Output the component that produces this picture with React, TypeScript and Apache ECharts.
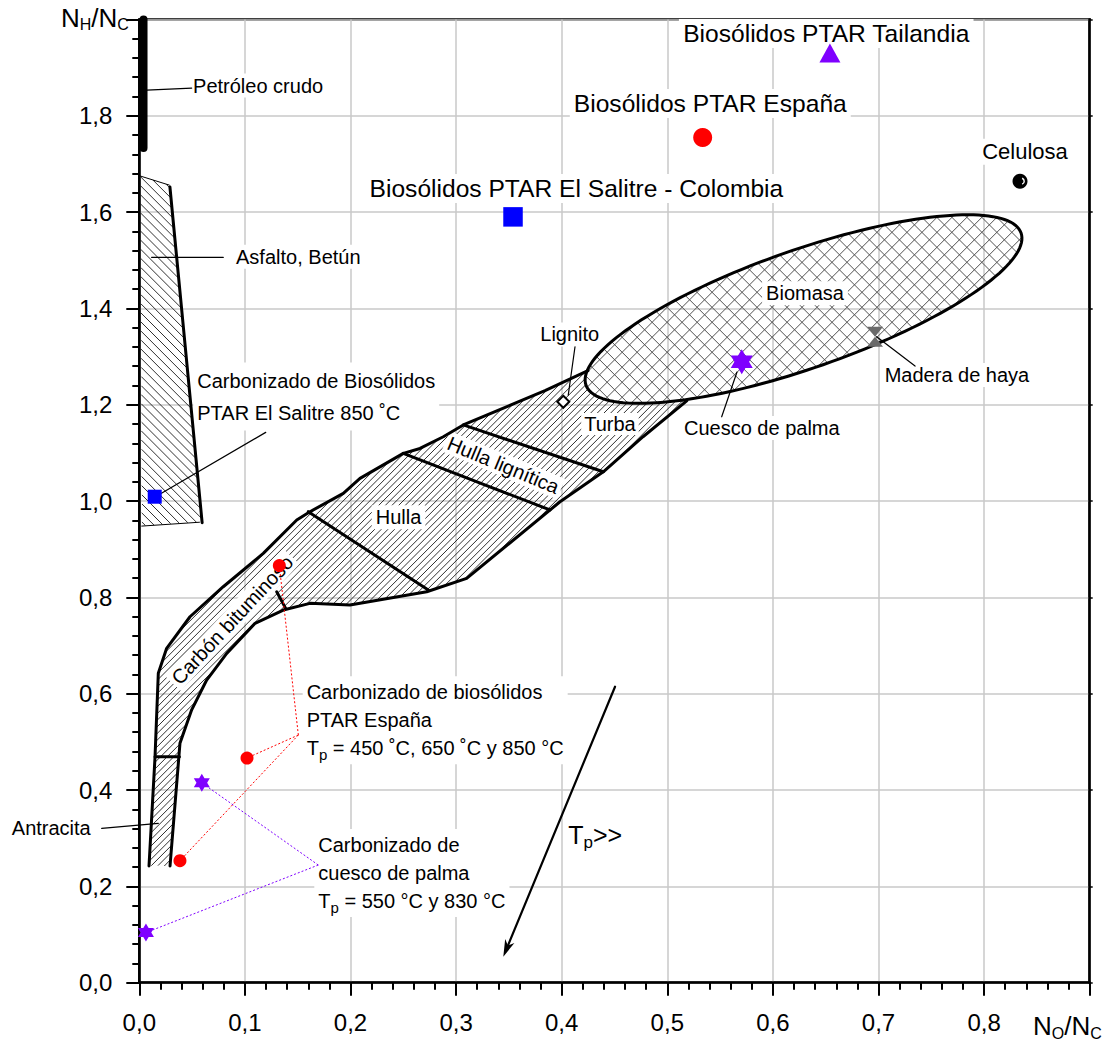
import React, { useEffect, useRef } from 'react';
import * as echarts from 'echarts';

const FONT = '"Liberation Sans", Arial, Helvetica, sans-serif';

// ---------------- axes ----------------
const X_MIN = 0;
const X_MAX = 0.9;
const X_STEP = 0.1;
const Y_MIN = 0;
const Y_MAX = 2.0;
const Y_STEP = 0.2;

// ---------------- point data (N_O/N_C, N_H/N_C) ----------------
const TAILANDIA = [[0.654, 1.93]];
const ESPANA = [[0.5335, 1.755]];
const COLOMBIA = [[0.3539, 1.59]];
const CELULOSA = [[0.834, 1.664]];
const MADERA_HAYA = [[0.6967, 1.341]];
const CUESCO_PALMA = [[0.5705, 1.289]];
const LIGNITO = [[0.4015, 1.206]];
const CHAR_SALITRE = [[0.0146, 1.009]];
const CHAR_ESPANA = [[0.1326, 0.866], [0.102, 0.4665], [0.0385, 0.2533]];
const CHAR_CUESCO = [[0.0592, 0.415], [0.0063, 0.104]];

// ---------------- regions ----------------
const PETROLEO = [[0.004, 2.0], [0.004, 1.733]];
const ASFALTO = [[0.0007, 1.675], [0.0284, 1.656], [0.0591, 0.957], [0.0023, 0.948]];
const ASFALTO_EDGE = [[0.029, 1.652], [0.0595, 0.955]];
const ASFALTO_TOP = [[0.0007, 1.675], [0.0284, 1.656]];
const ASFALTO_BOTTOM = [[0.057, 0.956], [0.0023, 0.948]];

const BAND_UPPER = [
  [0.0092, 0.2423], [0.0149, 0.4692], [0.018, 0.6423], [0.0259, 0.6942],
  [0.048, 0.7598], [0.0795, 0.8221], [0.1174, 0.8914], [0.1491, 0.9606],
  [0.1616, 0.9778], [0.1932, 1.016], [0.209, 1.0471], [0.25, 1.099],
  [0.2658, 1.1092], [0.2879, 1.1335], [0.3068, 1.158], [0.3842, 1.2294],
  [0.4249, 1.2709],
];
const BAND_INSIDE_BIOMASS = [[0.4742, 1.2929], [0.5215, 1.241]];
const BAND_LOWER = [
  [0.5184, 1.2079], [0.477, 1.1335], [0.4394, 1.0608], [0.3984, 0.9985],
  [0.31, 0.8395], [0.2722, 0.8117], [0.1995, 0.7841], [0.1616, 0.7876],
  [0.1364, 0.7737], [0.1096, 0.7461], [0.0828, 0.6838], [0.0638, 0.6284],
  [0.0496, 0.5665], [0.0385, 0.497], [0.0291, 0.2423],
];
const DIVIDERS = [
  [[0.0149, 0.469], [0.038, 0.469]],
  [[0.16, 0.978], [0.2737, 0.8152]],
  [[0.1301, 0.8117], [0.1386, 0.7772]],
  [[0.25, 1.099], [0.3889, 0.9815]],
  [[0.3068, 1.158], [0.4394, 1.0608]],
];
// Biomasa ellipse: centre, semi-major vector, semi-minor vector (data units)
const ELLIPSE_CENTER = [0.629, 1.3986];
const ELLIPSE_MAJOR = [0.206, 0.158];
const ELLIPSE_MINOR = [0.0185, -0.1156];

// ---------------- annotations ----------------
const LEADERS = [
  [[0.007, 1.8531], [0.0496, 1.8573]],
  [[0.0117, 1.5059], [0.0795, 1.5059]],
  [[0.0149, 1.0085], [0.1197, 1.1426]],
  [[0.4126, 1.3203], [0.4062, 1.22]],
  [[-0.0356, 0.3205], [0.018, 0.3309]],
  [[0.6983, 1.3411], [0.7346, 1.2802]],
  [[0.566, 1.2678], [0.5515, 1.175]],
];
const JUNCTION_ESPANA = [0.1506, 0.5142];
const JUNCTION_CUESCO = [0.1695, 0.2443];
const TP_ARROW = [[0.4505, 0.6145], [0.3447, 0.054]];

const RICH_NOTE = {
  a: { fontSize: 20, fontFamily: FONT, fill: '#000', lineHeight: 28 },
  s: { fontSize: 15, fontFamily: FONT, fill: '#000', lineHeight: 18, verticalAlign: 'bottom' },
};
const RICH_TP = {
  a: { fontSize: 25, fontFamily: FONT, fill: '#000', lineHeight: 32 },
  s: { fontSize: 17, fontFamily: FONT, fill: '#000', lineHeight: 12, verticalAlign: 'bottom' },
};
const RICH_NAME = {
  n: { fontSize: 26, fontFamily: FONT, fill: '#000', lineHeight: 30 },
  s: { fontSize: 16, fontFamily: FONT, fill: '#000', lineHeight: 10, verticalAlign: 'bottom' },
};

const LABELS: any[] = [
  { text: 'Petróleo crudo', at: [0.0509, 1.8627], align: 'left', size: 20 },
  { text: 'Asfalto, Betún', at: [0.0916, 1.5072], align: 'left', size: 20 },
  { text: 'Carbonizado de Biosólidos\nPTAR El Salitre 850 ˚C', at: [0.0549, 1.2169], align: 'left', size: 20, lh: 32 },
  { text: 'Lignito', at: [0.4076, 1.346], size: 20 },
  { text: 'Turba', at: [0.4457, 1.1599], size: 20, pad: [1, 3, 1, 3] },
  { text: 'Hulla lignítica', at: [0.3447, 1.0748], size: 20, rot: -22.6, pad: [1, 3, 1, 3] },
  { text: 'Hulla', at: [0.2455, 0.9662], size: 20 },
  { text: 'Carbón bituminoso', at: [0.088, 0.753], size: 20, rot: 47, pad: [1, 3, 1, 3] },
  { text: 'Antracita', at: [-0.046, 0.3212], align: 'right', size: 20 },
  { text: 'Biomasa', at: [0.6304, 1.4312], size: 20 },
  { text: 'Madera de haya', at: [0.7743, 1.2616], size: 20 },
  { text: 'Cuesco de palma', at: [0.5895, 1.1517], size: 20 },
  { text: 'Celulosa', at: [0.8387, 1.7251], size: 22 },
  { text: 'Biosólidos PTAR Tailandia', at: [0.6505, 1.9709], size: 24.6 },
  { text: 'Biosólidos PTAR España', at: [0.5407, 1.8256], size: 24.6 },
  { text: 'Biosólidos PTAR El Salitre - Colombia', at: [0.4139, 1.6491], size: 24.6 },
  {
    text: '{a|Carbonizado de biosólidos}\n{a|PTAR España}\n{a|T}{s|p}{a| = 450 ˚C, 650 ˚C y 850 °C}',
    at: [0.1585, 0.5449], align: 'left', size: 20, rich: RICH_NOTE,
  },
  {
    text: '{a|Carbonizado de}\n{a|cuesco de palma}\n{a|T}{s|p}{a| = 550 °C y 830 °C}',
    at: [0.1695, 0.2275], align: 'left', size: 20, rich: RICH_NOTE,
  },
  { text: '{a|T}{s|p}{a|>>}', at: [0.4062, 0.3066], align: 'left', size: 25, rich: RICH_TP },
];

// ---------------- helpers ----------------
function pip(poly: number[][], x: number, y: number) {
  let inside = false;
  for (let i = 0, j = poly.length - 1; i < poly.length; j = i++) {
    const xi = poly[i][0], yi = poly[i][1], xj = poly[j][0], yj = poly[j][1];
    if ((yi > y) !== (yj > y) && x < ((xj - xi) * (y - yi)) / (yj - yi) + xi) inside = !inside;
  }
  return inside;
}

function hatchPath(poly: number[][], angleDeg: number, spacing: number, exclude?: (x: number, y: number) => boolean) {
  const th = (angleDeg * Math.PI) / 180;
  const dx = Math.cos(th), dy = -Math.sin(th);
  const nx = -dy, ny = dx;
  let cmin = Infinity, cmax = -Infinity, tmin = Infinity, tmax = -Infinity;
  for (const p of poly) {
    const c = p[0] * nx + p[1] * ny;
    const t = p[0] * dx + p[1] * dy;
    cmin = Math.min(cmin, c); cmax = Math.max(cmax, c);
    tmin = Math.min(tmin, t); tmax = Math.max(tmax, t);
  }
  const step = 0.6;
  let d = '';
  for (let c = Math.ceil(cmin / spacing) * spacing; c <= cmax; c += spacing) {
    let on = false, sx = 0, sy = 0, lx = 0, ly = 0;
    for (let t = tmin; t <= tmax + step; t += step) {
      const x = c * nx + t * dx, y = c * ny + t * dy;
      const ins = pip(poly, x, y) && !(exclude && exclude(x, y));
      if (ins) {
        if (!on) { sx = x; sy = y; on = true; }
        lx = x; ly = y;
      } else if (on) {
        if (Math.hypot(lx - sx, ly - sy) > 0.5) d += `M${sx.toFixed(1)},${sy.toFixed(1)}L${lx.toFixed(1)},${ly.toFixed(1)}`;
        on = false;
      }
    }
    if (on && Math.hypot(lx - sx, ly - sy) > 0.5) d += `M${sx.toFixed(1)},${sy.toFixed(1)}L${lx.toFixed(1)},${ly.toFixed(1)}`;
  }
  return d;
}

function labelEl(api: any, L: any) {
  const p = api.coord(L.at);
  const pad = L.pad || [2, 4, 2, 4];
  const align = L.align || 'center';
  const dx = align === 'left' ? -pad[3] : align === 'right' ? pad[1] : 0;
  const style: any = {
    text: L.text, fill: '#000', fontSize: L.size, fontFamily: FONT,
    align, verticalAlign: 'middle', padding: pad,
  };
  if (L.lh) style.lineHeight = L.lh;
  if (L.rich) style.rich = L.rich;
  if (L.bg !== false) style.backgroundColor = '#fff';
  return { type: 'text', x: p[0] + dx, y: p[1], rotation: ((L.rot || 0) * Math.PI) / 180, style };
}

function renderRegions(_params: any, api: any) {
  const P = (p: number[]) => api.coord(p) as number[];
  const poly = (arr: number[][]) => arr.map(P);
  const children: any[] = [];
  const line = (pts: number[][], lw: number, stroke = '#000', dash?: number[]) =>
    children.push({
      type: 'polyline',
      shape: { points: pts },
      style: { stroke, lineWidth: lw, fill: 'none', lineJoin: 'round', lineCap: dash ? 'butt' : 'round', lineDash: dash || null },
    });
  const path = (d: string, stroke: string, lw: number) => {
    if (d) children.push({ type: 'path', shape: { pathData: d }, style: { stroke, lineWidth: lw, fill: 'none' } });
  };

  // ellipse geometry in pixels
  const c = P(ELLIPSE_CENTER);
  const a1 = P([ELLIPSE_CENTER[0] + ELLIPSE_MAJOR[0], ELLIPSE_CENTER[1] + ELLIPSE_MAJOR[1]]);
  const b1 = P([ELLIPSE_CENTER[0] + ELLIPSE_MINOR[0], ELLIPSE_CENTER[1] + ELLIPSE_MINOR[1]]);
  const A = [a1[0] - c[0], a1[1] - c[1]];
  const B = [b1[0] - c[0], b1[1] - c[1]];
  const det = A[0] * B[1] - B[0] * A[1];
  const inEllipse = (x: number, y: number) => {
    const rx = x - c[0], ry = y - c[1];
    const u = (rx * B[1] - B[0] * ry) / det;
    const v = (A[0] * ry - rx * A[1]) / det;
    return u * u + v * v < 1;
  };
  const ell: number[][] = [];
  for (let i = 0; i < 160; i++) {
    const t = (i / 160) * Math.PI * 2;
    ell.push([c[0] + A[0] * Math.cos(t) + B[0] * Math.sin(t), c[1] + A[1] * Math.cos(t) + B[1] * Math.sin(t)]);
  }

  // hatching
  const band = poly([...BAND_UPPER, ...BAND_INSIDE_BIOMASS, ...BAND_LOWER]);
  path(hatchPath(band, 45, 4.7, inEllipse), '#1a1a1a', 0.9);
  path(hatchPath(poly(ASFALTO), -45, 6.4), '#1a1a1a', 0.9);
  path(hatchPath(ell, 45, 10.6), '#505050', 1);
  path(hatchPath(ell, -45, 10.6), '#505050', 1);

  // labels (white boxes)
  for (const L of LABELS) children.push(labelEl(api, L));

  // outlines
  children.push({ type: 'polygon', shape: { points: ell }, style: { stroke: '#000', lineWidth: 3, fill: 'none' } });
  line(poly(BAND_UPPER), 3);
  line(poly(BAND_LOWER), 3);
  for (const dv of DIVIDERS) line(poly(dv), 3);
  line(poly(ASFALTO_EDGE), 3);
  line(poly(ASFALTO_TOP), 1);
  line(poly(ASFALTO_BOTTOM), 1);
  line(poly(PETROLEO), 8);

  // leaders
  for (const ld of LEADERS) line(poly(ld), 1.2);
  const je = P(JUNCTION_ESPANA);
  for (const pt of CHAR_ESPANA) line([je, P(pt)], 1, '#ff0000', [2, 2]);
  const jc = P(JUNCTION_CUESCO);
  for (const pt of CHAR_CUESCO) line([jc, P(pt)], 1, '#7f00ff', [2, 2]);

  // arrow
  const s = P(TP_ARROW[0]);
  const e = P(TP_ARROW[1]);
  const len = Math.hypot(e[0] - s[0], e[1] - s[1]);
  const ux = (e[0] - s[0]) / len, uy = (e[1] - s[1]) / len;
  const qx = -uy, qy = ux;
  line([s, [e[0] - ux * 8, e[1] - uy * 8]], 2.2);
  children.push({
    type: 'polygon',
    shape: {
      points: [
        e,
        [e[0] - ux * 17 + qx * 5, e[1] - uy * 17 + qy * 5],
        [e[0] - ux * 12, e[1] - uy * 12],
        [e[0] - ux * 17 - qx * 5, e[1] - uy * 17 - qy * 5],
      ],
    },
    style: { fill: '#000', stroke: 'none' },
  });

  return { type: 'group', children };
}

const HEXAGRAM = 'path://M50,0L64.43,25L93.3,25L78.87,50L93.3,75L64.43,75L50,100L35.57,75L6.7,75L21.13,50L6.7,25L35.57,25Z';
const HOURGLASS = 'path://M0,0L16,0L8,10L16,20L0,20L8,10Z';

function scatter(data: number[][], symbol: string, size: any, color: string, extra: any = {}) {
  return {
    type: 'scatter', data, symbol, symbolSize: size, z: 5, silent: true,
    itemStyle: { color, opacity: 1, ...(extra.itemStyle || {}) },
    emphasis: { disabled: true },
    ...(extra.rest || {}),
  };
}

const fmt = (hide: number) => (v: number) => (Math.abs(v - hide) < 1e-6 ? '' : v.toFixed(1).replace('.', ','));

function buildOption() {
  return {
    animation: false,
    backgroundColor: '#fff',
    grid: { left: 139.3, right: 17.3, top: 19.4, bottom: 60.3, show: true, borderColor: '#000', borderWidth: 2.5, backgroundColor: 'transparent' },
    xAxis: {
      type: 'value', min: X_MIN, max: X_MAX, interval: X_STEP,
      axisLine: { show: true, onZero: false, lineStyle: { color: '#000', width: 2.5 } },
      axisTick: { show: true, inside: false, length: 13, lineStyle: { color: '#000', width: 2 } },
      minorTick: { show: true, splitNumber: 5, length: 7, lineStyle: { color: '#000', width: 2 } },
      axisLabel: { margin: 28, fontSize: 24, fontFamily: FONT, color: '#000', formatter: fmt(X_MAX) },
      splitLine: { show: true, lineStyle: { color: '#c8c8c8', width: 1.5 } },
    },
    yAxis: [
      {
        type: 'value', min: Y_MIN, max: Y_MAX, interval: Y_STEP,
        axisLine: { show: true, onZero: false, lineStyle: { color: '#000', width: 2.5 } },
        axisTick: { show: true, inside: false, length: 13, lineStyle: { color: '#000', width: 2 } },
        minorTick: { show: true, splitNumber: 5, length: 7, lineStyle: { color: '#000', width: 2 } },
        axisLabel: { margin: 27, fontSize: 24, fontFamily: FONT, color: '#000', formatter: fmt(Y_MAX) },
        splitLine: { show: true, lineStyle: { color: '#c8c8c8', width: 1.5 } },
      },
      {
        type: 'value', position: 'right', min: Y_MIN, max: Y_MAX, interval: Y_STEP,
        axisLine: { show: true, onZero: false, lineStyle: { color: '#000', width: 2.5 } },
        axisTick: { show: true, inside: false, length: 3, lineStyle: { color: '#000', width: 1.5 } },
        axisLabel: { show: false },
        splitLine: { show: false },
      },
    ],
    graphic: [
      {
        type: 'text', x: 61, y: 17.5, z: 100,
        style: { text: '{n|N}{s|H}{n|/N}{s|C}', rich: RICH_NAME, fill: '#000', align: 'left', verticalAlign: 'middle' },
      },
      {
        type: 'text', x: 1033, y: 1026, z: 100,
        style: { text: '{n|N}{s|O}{n|/N}{s|C}', rich: RICH_NAME, fill: '#000', align: 'left', verticalAlign: 'middle' },
      },
    ],
    series: [
      {
        type: 'custom', coordinateSystem: 'cartesian2d', xAxisIndex: 0, yAxisIndex: 0,
        data: [[0, 0]], clip: false, silent: true, z: 2, renderItem: renderRegions,
      },
      scatter(TAILANDIA, 'triangle', [21, 19], '#7f00ff'),
      scatter(ESPANA, 'circle', 19, '#ff0000'),
      scatter(COLOMBIA, 'rect', 19.5, '#0000ff'),
      scatter(CELULOSA, 'circle', 15, '#000'),
      scatter(MADERA_HAYA, HOURGLASS, [16, 20], '#6a6a6a'),
      scatter(CUESCO_PALMA, HEXAGRAM, [22, 25], '#7f00ff'),
      scatter(LIGNITO, 'diamond', 12, '#fff', { itemStyle: { borderColor: '#000', borderWidth: 2 } }),
      scatter(CHAR_SALITRE, 'rect', 14, '#0000ff'),
      scatter(CHAR_ESPANA, 'circle', 13, '#ff0000'),
      scatter(CHAR_CUESCO, HEXAGRAM, [16, 18], '#7f00ff'),
      {
        type: 'custom', coordinateSystem: 'cartesian2d', data: CELULOSA, z: 6, silent: true, clip: false,
        renderItem: (_p: any, api: any) => {
          const p = api.coord([api.value(0), api.value(1)]);
          return {
            type: 'arc',
            shape: { cx: p[0] + 1, cy: p[1], r: 3.2, startAngle: -1.2, endAngle: 1.2 },
            style: { stroke: '#fff', lineWidth: 1.4, fill: 'none' },
          };
        },
      },
    ],
  };
}

export default function App() {
  const ref = useRef<HTMLDivElement>(null);
  useEffect(() => {
    const chart = echarts.init(ref.current as HTMLDivElement, null, { renderer: 'svg' });
    chart.setOption(buildOption() as any);
    return () => chart.dispose();
  }, []);
  return (
    <div
      ref={ref}
      style={{ position: 'absolute', left: 0, top: 0, width: 1107, height: 1043, background: '#fff' }}
    />
  );
}
